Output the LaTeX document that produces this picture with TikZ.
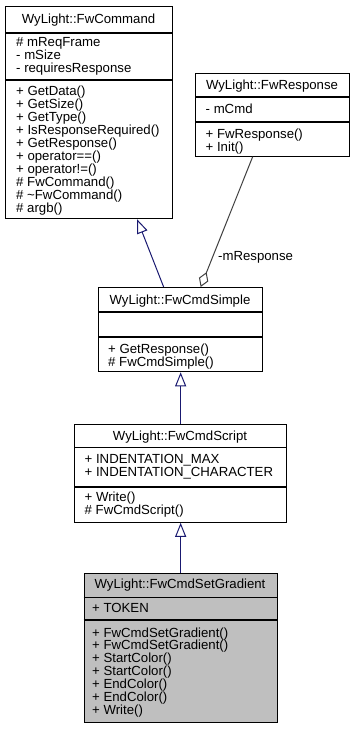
\documentclass[tikz,border=0pt]{standalone}
\usepackage{fontspec}
\setmainfont{Liberation Sans}
\usetikzlibrary{arrows.meta}

\definecolor{inherit}{RGB}{25,25,112}
\definecolor{usage}{RGB}{64,64,64}
\definecolor{current}{RGB}{191,191,191}

\begin{document}
\begin{tikzpicture}[x=1pt, y=-1pt,
    every node/.style={font=\fontsize{13.2}{13}\selectfont, inner sep=0pt},
    classbox/.style={draw=black, line width=1.3pt, fill=white, anchor=north west},
    title/.style={anchor=base},
    member/.style={anchor=base west},
    sep/.style={line width=1.1pt},
    derived/.style={draw=inherit, line width=1pt, -{Triangle[length=14pt, width=11pt, fill=white]}},
    owner/.style={draw=usage, line width=1pt, -{Diamond[length=16pt, width=10pt, fill=white]}}]
  \useasboundingbox (0,0) rectangle (355,731);

  % WyLight::FwCommand
  \node[classbox, minimum width=167pt, minimum height=212pt] (cmd) at (5,6) {};
  \node[title] (cmd-name) at (88.5,23) {WyLight::FwCommand};
  \draw[sep] (5,33) -- (172,33);
  \foreach \m [count=\i from 0] in {\# mReqFrame, - mSize, - requiresResponse}
    \node[member] (cmd-a\i) at (16,46+13*\i) {\m};
  \draw[sep] (5,80) -- (172,80);
  \foreach \m [count=\i from 0] in {+ GetData(), + GetSize(), + GetType(),
      + IsResponseRequired(), + GetResponse(), + operator==(), + operator!=(),
      \# FwCommand(), \# \textasciitilde FwCommand(), \# argb()}
    \node[member] (cmd-m\i) at (16,95.5+13*\i) {\m};

  % WyLight::FwResponse
  \node[classbox, minimum width=154pt, minimum height=83pt] (resp) at (195,72.5) {};
  \node[title] (resp-name) at (272,89.5) {WyLight::FwResponse};
  \draw[sep] (195,97) -- (349,97);
  \node[member] (resp-a0) at (205.5,113) {- mCmd};
  \draw[sep] (195,122) -- (349,122);
  \foreach \m [count=\i from 0] in {+ FwResponse(), + Init()}
    \node[member] (resp-m\i) at (205.5,138+13*\i) {\m};

  % WyLight::FwCmdSimple
  \node[classbox, minimum width=164pt, minimum height=84pt] (simple) at (98,287) {};
  \node[title] (simple-name) at (180,304) {WyLight::FwCmdSimple};
  \draw[sep] (98,312) -- (262,312);
  \draw[sep] (98,337) -- (262,337);
  \foreach \m [count=\i from 0] in {+ GetResponse(), \# FwCmdSimple()}
    \node[member] (simple-m\i) at (108,353+13*\i) {\m};

  % WyLight::FwCmdScript
  \node[classbox, minimum width=212pt, minimum height=98pt] (script) at (74,423.5) {};
  \node[title] (script-name) at (180,440) {WyLight::FwCmdScript};
  \draw[sep] (74,447.5) -- (286,447.5);
  \foreach \m [count=\i from 0] in {+ INDENTATION\_MAX, + INDENTATION\_CHARACTER}
    \node[member] (script-a\i) at (84.5,463.5+13*\i) {\m};
  \draw[sep] (74,487) -- (286,487);
  \foreach \m [count=\i from 0] in {+ Write(), \# FwCmdScript()}
    \node[member] (script-m\i) at (84.5,501+13*\i) {\m};

  % WyLight::FwCmdSetGradient
  \node[classbox, fill=current, minimum width=193pt, minimum height=149.5pt] (grad) at (83.5,572.5) {};
  \node[title] (grad-name) at (180,588.5) {WyLight::FwCmdSetGradient};
  \draw[sep] (83.5,597.5) -- (276.5,597.5);
  \node[member] (grad-a0) at (92,612.5) {+ TOKEN};
  \draw[sep] (83.5,620) -- (276.5,620);
  \foreach \m [count=\i from 0] in {+ FwCmdSetGradient(), + FwCmdSetGradient(),
      + StartColor(), + StartColor(), + EndColor(), + EndColor(), + Write()}
    \node[member] (grad-m\i) at (92,637+12.9*\i) {\m};

  % relations
  \draw[derived] ([xshift=-17pt]simple.north) -- ([xshift=48pt]cmd.south);
  \draw[owner] ([xshift=-20pt]resp.south) -- ([xshift=20pt]simple.north);
  \node[member] (resp-role) at (218,260) {-mResponse};
  \draw[derived] (script.north) -- (simple.south);
  \draw[derived] (grad.north) -- (script.south);
\end{tikzpicture}
\end{document}
